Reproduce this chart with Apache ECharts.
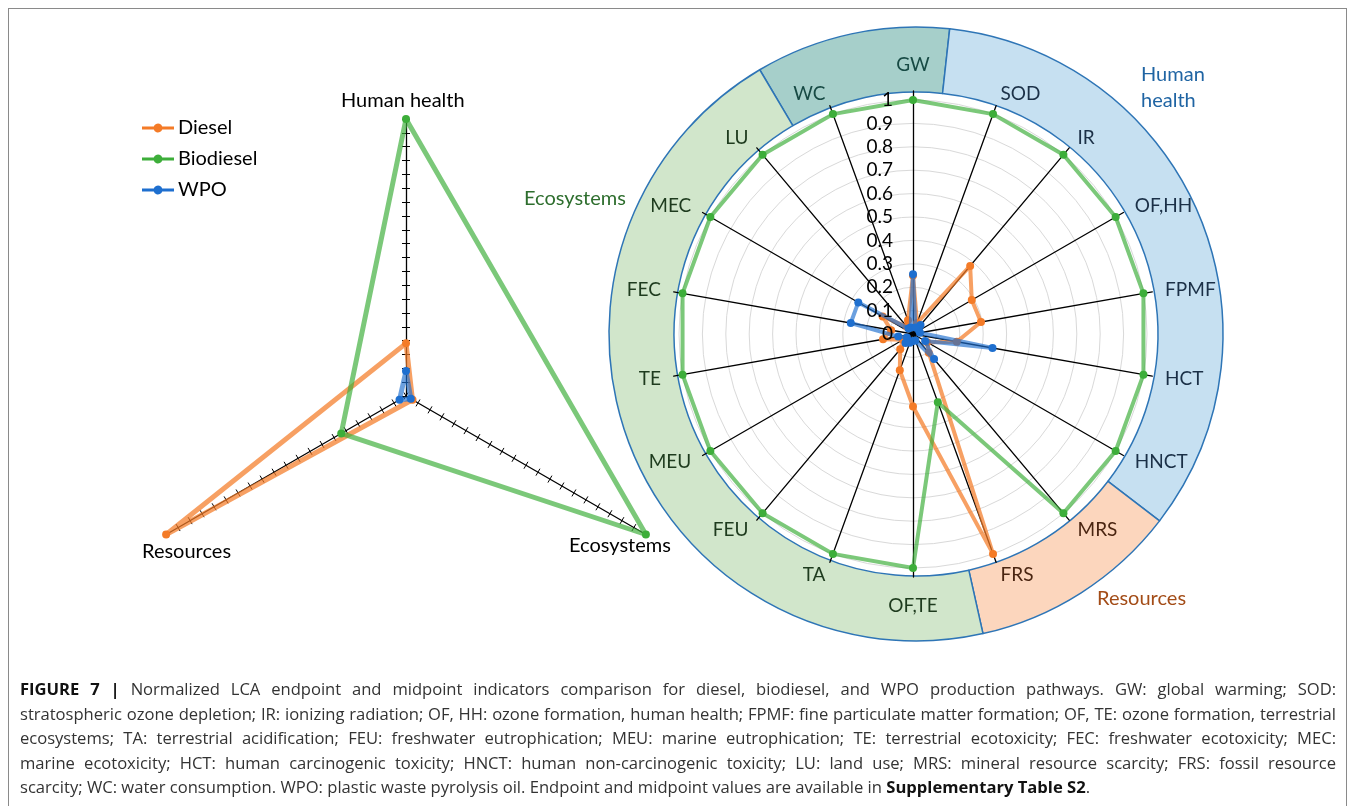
<!DOCTYPE html>
<html>
<head>
<meta charset="utf-8">
<script src="https://cdn.jsdelivr.net/npm/echarts@6/dist/echarts.min.js"></script>
<style>
  html, body { margin: 0; padding: 0; background: #fff; }
  #wrap { position: relative; width: 1355px; height: 806px; overflow: hidden; }
  #chart { position: absolute; left: 0; top: 0; width: 1355px; height: 806px; }
  #frame { position: absolute; left: 8px; top: 8px; width: 1337px; height: 840px;
           border: 1px solid #8a8a8a; pointer-events: none; }
  #caption { position: absolute; left: 20px; top: 677px; width: 1316px;
             font-family: "Open Sans", Roboto, "Liberation Sans", sans-serif;
             font-size: 16.6px; line-height: 24.5px; color: #333; }
  #caption div { white-space: nowrap; text-align: justify; text-align-last: justify; }
  #caption div.last { text-align-last: left; }
  #caption b { color: #111; }
</style>
</head>
<body>
<div id="wrap">
  <div id="chart"></div>
  <div id="frame"></div>
  <div id="caption">
    <div><b>FIGURE 7 |</b> Normalized LCA endpoint and midpoint indicators comparison for diesel, biodiesel, and WPO production pathways. GW: global warming; SOD:</div>
    <div>stratospheric ozone depletion; IR: ionizing radiation; OF, HH: ozone formation, human health; FPMF: fine particulate matter formation; OF, TE: ozone formation, terrestrial</div>
    <div>ecosystems; TA: terrestrial acidification; FEU: freshwater eutrophication; MEU: marine eutrophication; TE: terrestrial ecotoxicity; FEC: freshwater ecotoxicity; MEC:</div>
    <div>marine ecotoxicity; HCT: human carcinogenic toxicity; HNCT: human non-carcinogenic toxicity; LU: land use; MRS: mineral resource scarcity; FRS: fossil resource</div>
    <div class="last">scarcity; WC: water consumption. WPO: plastic waste pyrolysis oil. Endpoint and midpoint values are available in <b>Supplementary Table S2</b>.</div>
  </div>
</div>
<script>
// ---- Midpoint indicators (normalized), listed clockwise from the top ----
const midpointCategories = ['GW', 'SOD', 'IR', 'OF,HH', 'FPMF', 'HCT', 'HNCT', 'MRS', 'FRS',
  'OF,TE', 'TA', 'FEU', 'MEU', 'TE', 'FEC', 'MEC', 'LU', 'WC'];
const midpointGroup = ['both', 'health', 'health', 'health', 'health', 'health', 'health', 'resources', 'resources',
  'eco', 'eco', 'eco', 'eco', 'eco', 'eco', 'eco', 'eco', 'both'];
const dieselMidpoint    = [0.25, 0.05, 0.38, 0.29, 0.295, 0.19, 0.07, 0.105, 1.0, 0.31, 0.165, 0.085, 0.05, 0.13, 0.095, 0.15, 0.04, 0.063];
const biodieselMidpoint = [1.0, 1.0, 1.0, 1.0, 1.0, 1.0, 1.0, 1.0, 0.31, 1.0, 1.0, 1.0, 1.0, 1.0, 1.0, 1.0, 1.0, 1.0];
const wpoMidpoint       = [0.255, 0.03, 0.05, 0.03, 0.03, 0.345, 0.06, 0.14, 0.03, 0.03, 0.04, 0.05, 0.03, 0.064, 0.27, 0.27, 0.03, 0.03];
const midpointTickLabels = ['0', '0.1', '0.2', '0.3', '0.4', '0.5', '0.6', '0.7', '0.8', '0.9', '1'];

// ---- Endpoint indicators (normalized), clockwise from the top ----
const endpointCategories = ['Human health', 'Ecosystems', 'Resources'];
const dieselEndpoint    = [0.19, 0.027, 1.0];
const biodieselEndpoint = [1.0, 1.0, 0.27];
const wpoEndpoint       = [0.09, 0.02, 0.027];

// ---- Damage-area ring around the midpoint chart (angular spans, degrees) ----
const ringGroups = ['Human health & Ecosystems', 'Human health', 'Resources', 'Ecosystems'];
const ringSpans  = [36.9, 121.2, 39.9, 162.0];

const seriesNames = ['Diesel', 'Biodiesel', 'WPO'];

// ---- styling ----
const FONT = 'Lato, "Open Sans", sans-serif';
const markerColors = ['#F47B27', '#3DAE3A', '#1E6FCF'];
const lineColors = ['rgba(244,123,39,0.72)', 'rgba(61,174,58,0.68)', 'rgba(30,111,207,0.66)'];
const ringFill = ['#A6CFCA', '#C6E0F1', '#FCD6BD', '#D1E6CB'];
const groupText = { both: '#174A44', health: '#1B3047', resources: '#4A2511', eco: '#1E3B1E' };

// radar places indicators counter-clockwise; keep the first and reverse the rest
const clockwise = arr => [arr[0]].concat(arr.slice(1).reverse());

const MID_C = [913, 334];
const RING_C = [916, 334];
const END_C = [406, 396];

const midNames = clockwise(midpointCategories);
const midGroups = clockwise(midpointGroup);

const hiddenAxis = {
  axisName: { show: false },
  axisLine: { show: false },
  axisTick: { show: false },
  axisLabel: { show: false },
  splitLine: { show: false },
  splitArea: { show: false }
};

const radars = [
  // 0: concentric grid circles of the midpoint chart
  Object.assign({}, hiddenAxis, {
    center: MID_C, radius: 234, shape: 'circle', splitNumber: 10, z: 1,
    indicator: midNames.map(n => ({ name: n, min: 0, max: 1 })),
    splitLine: { show: true, lineStyle: { color: '#D9D9D9', width: 1 } }
  }),
  // 1: spokes reaching the ring, with the indicator names
  Object.assign({}, hiddenAxis, {
    center: MID_C, radius: 243, shape: 'circle', splitNumber: 10, z: 1,
    indicator: midNames.map((n, i) => ({
      name: n, min: 0, max: 1,
      color: groupText[midGroups[i]],
      nameGap: n === 'GW' ? 17 : (n === 'OF,TE' ? 19 : 13)
    })),
    axisLine: { show: true, lineStyle: { color: '#000', width: 1.3 } },
    axisName: { show: true, fontFamily: FONT, fontSize: 19 },
    nameGap: 13
  }),
  // 2: value labels along the GW spoke
  Object.assign({}, hiddenAxis, {
    center: MID_C, radius: 234, shape: 'circle', splitNumber: 10, z: 6,
    indicator: midNames.map((n, i) => (i === 0
      ? { name: n, min: 0, max: 1,
          axisLabel: { show: true, margin: 20, color: '#000', fontFamily: FONT, fontSize: 19,
                       formatter: v => midpointTickLabels[Math.round(v * 10)] } }
      : { name: n, min: 0, max: 1 }))
  }),
  // 3: endpoint chart, ticks on one side
  Object.assign({}, hiddenAxis, {
    center: END_C, radius: 277, splitNumber: 20, z: 1,
    indicator: clockwise(endpointCategories).map(n => ({ name: n, min: 0, max: 1 })),
    axisLine: { show: true, lineStyle: { color: '#000', width: 1.3 } },
    axisTick: { show: true, length: 4, lineStyle: { color: '#000', width: 1 } }
  }),
  // 4: endpoint chart, ticks on the other side
  Object.assign({}, hiddenAxis, {
    center: END_C, radius: 277, splitNumber: 20, z: 1,
    indicator: clockwise(endpointCategories).map(n => ({ name: n, min: 0, max: 1 })),
    axisTick: { show: true, length: -4, lineStyle: { color: '#000', width: 1 } }
  })
];

function radarSeries(idx, values, radarIndex, width) {
  return {
    type: 'radar', name: seriesNames[idx], radarIndex: radarIndex,
    symbol: 'circle', symbolSize: 8, z: 3 + idx * 0.01,
    color: markerColors[idx],
    itemStyle: { color: markerColors[idx] },
    lineStyle: { color: lineColors[idx], width: width },
    emphasis: { disabled: true },
    data: [{ name: seriesNames[idx], value: clockwise(values) }]
  };
}

const legendIcon = 'path://M0,3H11.76A4.5,4.5 0 0 1 20.24,3H32V6H20.24A4.5,4.5 0 0 1 11.76,6H0Z';

const option = {
  animation: false,
  backgroundColor: '#fff',
  textStyle: { fontFamily: FONT },
  legend: {
    orient: 'vertical', left: 137, top: 113,
    itemWidth: 32, itemHeight: 9, itemGap: 11,
    icon: legendIcon,
    textStyle: { fontFamily: FONT, fontSize: 20, color: '#000', padding: [0, 0, 0, -1] },
    data: seriesNames,
    selectedMode: false
  },
  radar: radars,
  series: [
    {
      type: 'pie', name: 'Damage areas', silent: true, z: 0,
      center: RING_C, radius: [242, 307], startAngle: 120.6, clockwise: true,
      label: { show: false }, labelLine: { show: false },
      itemStyle: { borderColor: '#2E75B6', borderWidth: 1.5 },
      emphasis: { disabled: true },
      data: ringGroups.map((g, i) => ({ name: g, value: ringSpans[i], itemStyle: { color: ringFill[i] } }))
    },
    radarSeries(0, dieselMidpoint, 0, 4),
    radarSeries(1, biodieselMidpoint, 0, 4),
    radarSeries(2, wpoMidpoint, 0, 4),
    radarSeries(0, dieselEndpoint, 3, 5),
    radarSeries(1, biodieselEndpoint, 3, 5),
    radarSeries(2, wpoEndpoint, 3, 5)
  ],
  graphic: [
    // endpoint axis names
    { type: 'text', left: 341, top: 91, silent: true,
      style: { text: endpointCategories[0], font: '20px ' + FONT, fill: '#000' } },
    { type: 'text', left: 569, top: 536, silent: true,
      style: { text: endpointCategories[1], font: '20px ' + FONT, fill: '#000' } },
    { type: 'text', left: 142, top: 542, silent: true,
      style: { text: endpointCategories[2], font: '20px ' + FONT, fill: '#000' } },
    // damage-area names around the ring
    { type: 'text', left: 1141, top: 62, silent: true,
      style: { text: 'Human\nhealth', font: '20px ' + FONT, fill: '#1F64A3', lineHeight: 26 } },
    { type: 'text', left: 524, top: 189, silent: true,
      style: { text: ringGroups[3], font: '20px ' + FONT, fill: '#2E6E2E' } },
    { type: 'text', left: 1097, top: 589, silent: true,
      style: { text: ringGroups[2], font: '20px ' + FONT, fill: '#A34C17' } }
  ]
};

const chart = echarts.init(document.getElementById('chart'), null, { renderer: 'canvas' });
chart.setOption(option);

// Tighten letter spacing of any caption line whose natural width exceeds the column
(function fitCaption() {
  const box = document.getElementById('caption');
  const width = box.clientWidth;
  Array.from(box.children).forEach(line => {
    const probe = document.createElement('span');
    probe.style.whiteSpace = 'nowrap';
    probe.innerHTML = line.innerHTML;
    line.innerHTML = '';
    line.appendChild(probe);
    const natural = probe.getBoundingClientRect().width;
    const chars = probe.textContent.length;
    line.innerHTML = probe.innerHTML;
    if (natural > width - 4) {
      line.style.letterSpacing = ((width - 4 - natural) / chars).toFixed(3) + 'px';
    }
  });
})();
</script>
</body>
</html>
